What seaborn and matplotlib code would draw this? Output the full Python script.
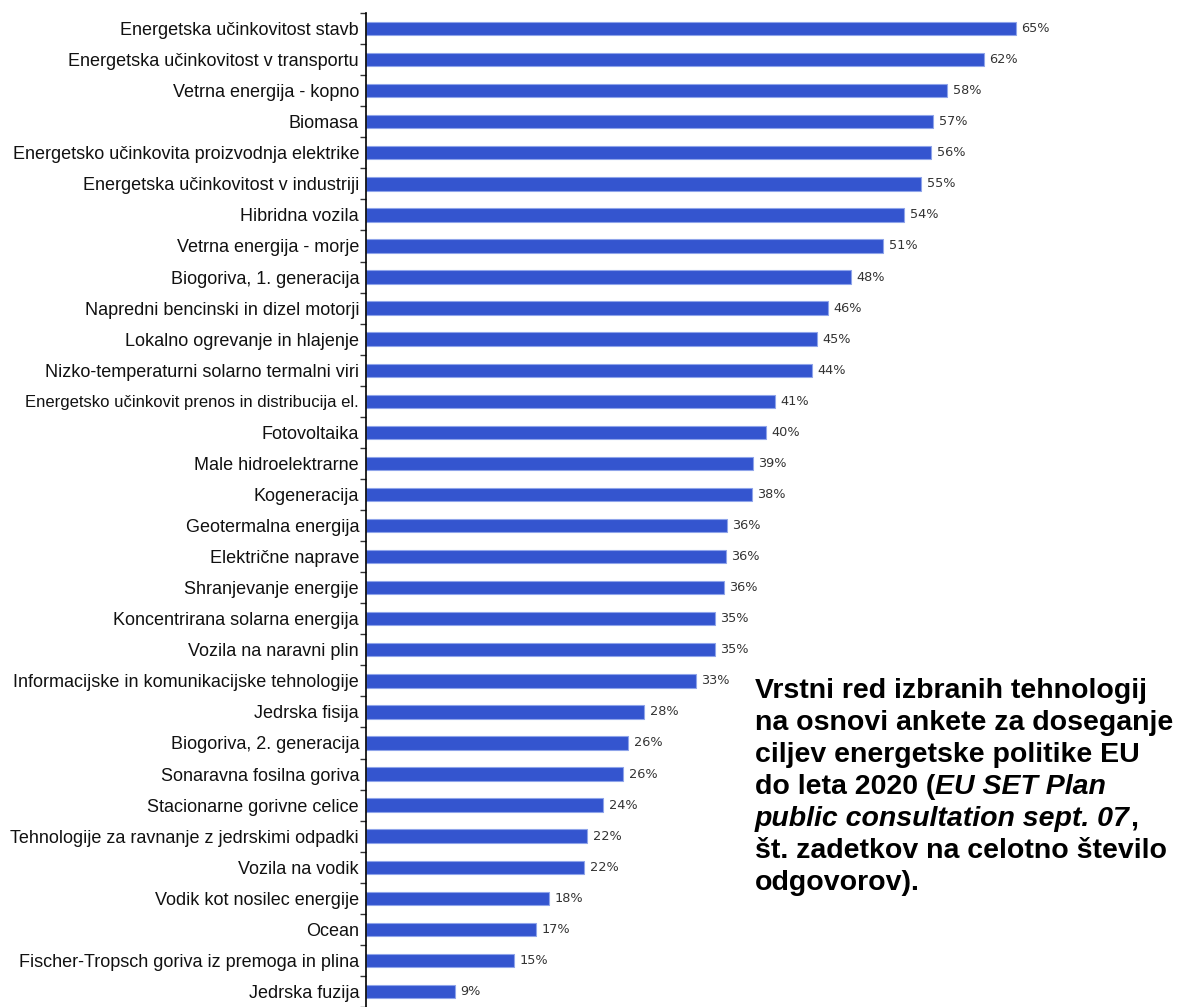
import numpy as np
import pandas as pd
import matplotlib
matplotlib.use("Agg")
import matplotlib.pyplot as plt
import seaborn as sns

categories = [
    "Energetska učinkovitost stavb",
    "Energetska učinkovitost v transportu",
    "Vetrna energija - kopno",
    "Biomasa",
    "Energetsko učinkovita proizvodnja elektrike",
    "Energetska učinkovitost v industriji",
    "Hibridna vozila",
    "Vetrna energija - morje",
    "Biogoriva, 1. generacija",
    "Napredni bencinski in dizel motorji",
    "Lokalno ogrevanje in hlajenje",
    "Nizko-temperaturni solarno termalni viri",
    "Energetsko učinkovit prenos in distribucija el.",
    "Fotovoltaika",
    "Male hidroelektrarne",
    "Kogeneracija",
    "Geotermalna energija",
    "Električne naprave",
    "Shranjevanje energije",
    "Koncentrirana solarna energija",
    "Vozila na naravni plin",
    "Informacijske in komunikacijske tehnologije",
    "Jedrska fisija",
    "Biogoriva, 2. generacija",
    "Sonaravna fosilna goriva",
    "Stacionarne gorivne celice",
    "Tehnologije za ravnanje z jedrskimi odpadki",
    "Vozila na vodik",
    "Vodik kot nosilec energije",
    "Ocean",
    "Fischer-Tropsch goriva iz premoga in plina",
    "Jedrska fuzija",
]

values = [65.0, 61.8, 58.1, 56.7, 56.5, 55.5, 53.8, 51.7, 48.5, 46.2, 45.1, 44.6,
          40.9, 40.0, 38.7, 38.6, 36.1, 36.0, 35.8, 34.9, 34.9, 33.0, 27.8, 26.2,
          25.7, 23.7, 22.1, 21.8, 18.3, 17.0, 14.8, 8.9]

value_labels = ["65%", "62%", "58%", "57%", "56%", "55%", "54%", "51%", "48%", "46%",
                "45%", "44%", "41%", "40%", "39%", "38%", "36%", "36%", "36%", "35%",
                "35%", "33%", "28%", "26%", "26%", "24%", "22%", "22%", "18%", "17%",
                "15%", "9%"]

note_lines = [
    [("Vrstni red izbranih tehnologij", "normal")],
    [("na osnovi ankete za doseganje", "normal")],
    [("ciljev energetske politike EU", "normal")],
    [("do leta 2020 (", "normal"), ("EU SET Plan", "italic")],
    [("public consultation sept. 07", "italic"), (",", "normal")],
    [("št. zadetkov na celotno število", "normal")],
    [("odgovorov).", "normal")],
]

sns.set_theme(style="white")
plt.rcParams["font.family"] = ["Liberation Sans", "DejaVu Sans"]

W, H = 1178, 1007
fig = plt.figure(figsize=(W / 100, H / 100), dpi=100)
ax_left = 366 / W
ax_top = 13
ax = fig.add_axes([ax_left, 0, 1 - ax_left, 1 - ax_top / H])

df = pd.DataFrame({"cat": categories, "val": values})
sns.barplot(data=df, x="val", y="cat", orient="h", color="#3455CF",
            saturation=1, width=0.43, ax=ax, edgecolor="#8FA4EA", linewidth=0.8)

n = len(categories)
step = (H - ax_top) / 31.2
ax.set_ylim(-0.5 + step, -0.5)
ax.set_xlim(0, (W - 366) / 10)

ax.bar_label(ax.containers[0], labels=value_labels, padding=4,
             fontsize=9.3, color="#333333", family=["DejaVu Sans"])

ax.set_xlabel("")
ax.set_ylabel("")
ax.set_xticks([])
for s in ["top", "right", "bottom"]:
    ax.spines[s].set_visible(False)
ax.spines["left"].set_color("black")
ax.spines["left"].set_linewidth(1.2)
ax.tick_params(axis="y", which="major", length=0, pad=5, labelsize=13,
               labelcolor="#111111")
ax.set_yticks(np.arange(-0.5, n, 1), minor=True)
ax.tick_params(axis="y", which="minor", length=4, width=1, color="#333333",
               direction="out", left=True)
for lab in ax.get_yticklabels():
    if lab.get_text().endswith("el."):
        lab.set_fontsize(12)

# annotation text
fig.canvas.draw()
renderer = fig.canvas.get_renderer()
x0 = 755
y_first = H - 698
line_gap = 32
for i, segs in enumerate(note_lines):
    x = x0
    y = y_first - i * line_gap
    for text, style in segs:
        t = fig.text(x / W, y / H, text, fontsize=20.5, fontweight="bold",
                     fontstyle=style, color="black", ha="left", va="baseline",
                     family=["Liberation Sans", "DejaVu Sans"])
        bb = t.get_window_extent(renderer=renderer)
        x += bb.width

fig.savefig("out.png", dpi=100)
